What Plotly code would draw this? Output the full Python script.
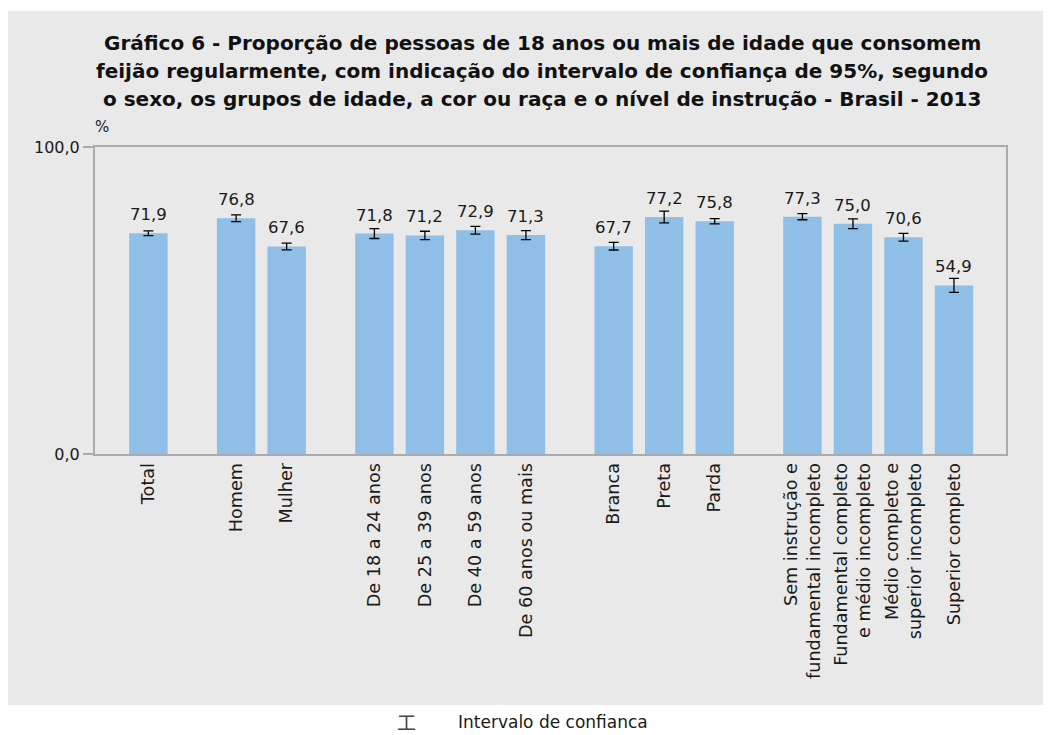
import plotly.graph_objects as go

categories = ["Total", "Homem", "Mulher",
              "De 18 a 24 anos", "De 25 a 39 anos", "De 40 a 59 anos", "De 60 anos ou mais",
              "Branca", "Preta", "Parda",
              "Sem instrução e<br>fundamental incompleto",
              "Fundamental completo<br>e médio incompleto",
              "Médio completo e<br>superior incompleto",
              "Superior completo"]
groups = [0, 1, 1, 2, 2, 2, 2, 3, 3, 3, 4, 4, 4, 4]
values = [71.9, 76.8, 67.6, 71.8, 71.2, 72.9, 71.3, 67.7, 77.2, 75.8, 77.3, 75.0, 70.6, 54.9]
ci_half = [0.8, 1.1, 1.1, 1.6, 1.35, 1.25, 1.45, 1.25, 1.9, 0.87, 1.0, 1.57, 1.25, 2.28]
value_labels = [f"{v:.1f}".replace(".", ",") for v in values]
y_ticks = [0, 100]
y_ticktext = ["0,0", "100,0"]
title_lines = [
    "Gráfico 6 - Proporção de pessoas de 18 anos ou mais de idade que consomem",
    "feijão regularmente, com indicação do intervalo de confiança de 95%, segundo",
    "o sexo, os grupos de idade, a cor ou raça e o nível de instrução - Brasil - 2013",
]

GAP = 0.737
xpos = [i + GAP * g for i, g in enumerate(groups)]

# page body has an 8px margin: figure origin sits at (8, 8) on screen
OFF = 8
W, H = 1051 - OFF, 735 - OFF
L, R, T, B = 95 - OFF, 45, 147 - OFF, 281
pw, ph = W - L - R, H - T - B

def px_x(p):
    return (p - OFF - L) / pw

def px_y(p):
    return (H - B - (p - OFF)) / ph

fig = go.Figure()
fig.add_trace(go.Bar(
    x=xpos, y=values, width=0.76,
    marker=dict(color="#8fbee6", line=dict(width=0)),
    error_y=dict(type="data", array=ci_half, visible=True,
                 color="black", thickness=1.3, width=5),
    showlegend=False, hoverinfo="skip",
))

annotations = []
for x, v, t in zip(xpos, values, value_labels):
    annotations.append(dict(x=x, y=v, xref="x", yref="y", text=t, showarrow=False,
                            yanchor="bottom", yshift=7,
                            font=dict(family="DejaVu Sans", size=16.5, color="#1a1a1a")))

for i, line in enumerate(title_lines):
    annotations.append(dict(
        x=px_x(542), y=px_y(43 + 28 * i), xref="paper", yref="paper", showarrow=False,
        xanchor="center", yanchor="middle", text=f"<b>{line}</b>",
        font=dict(family="DejaVu Sans", size=20.0, color="#111111")))

annotations.append(dict(x=px_x(102), y=px_y(127), xref="paper", yref="paper", showarrow=False,
                        xanchor="center", yanchor="middle",
                        text="%", font=dict(family="DejaVu Sans", size=15, color="#1a1a1a")))

annotations.append(dict(x=px_x(406), y=px_y(721), xref="paper", yref="paper", showarrow=False,
                        xanchor="center", yanchor="middle", text="工",
                        font=dict(family="Noto Sans CJK SC", size=19, color="#444444")))
annotations.append(dict(x=px_x(456), y=px_y(722), xref="paper", yref="paper", showarrow=False,
                        xanchor="left", yanchor="middle", text="Intervalo de confianca",
                        font=dict(family="DejaVu Sans", size=17, color="#1a1a1a")))

fig.update_layout(
    width=W, height=H,
    margin=dict(l=L, r=R, t=T, b=B, autoexpand=False),
    paper_bgcolor="white", plot_bgcolor="white",
    font=dict(family="DejaVu Sans", size=16, color="#1a1a1a"),
    annotations=annotations,
    shapes=[dict(type="rect", xref="paper", yref="paper", layer="below",
                 x0=px_x(6), x1=px_x(1046), y0=px_y(705), y1=px_y(11),
                 fillcolor="#e9e9e9", line=dict(width=0))],
    xaxis=dict(range=[-1.057, xpos[-1] + 1.03], tickvals=xpos, ticktext=categories,
               tickangle=-90, ticks="", showgrid=False, zeroline=False,
               showline=True, mirror=True, linecolor="#ababab", linewidth=2,
               tickfont=dict(family="DejaVu Sans", size=17.6, color="#1a1a1a")),
    yaxis=dict(range=[0, 100], tickvals=y_ticks, ticktext=y_ticktext,
               ticks="outside", ticklen=10, tickcolor="#ababab", tickwidth=2,
               showgrid=False, zeroline=False,
               showline=True, mirror=True, linecolor="#ababab", linewidth=2,
               tickfont=dict(family="DejaVu Sans", size=16, color="#1a1a1a")),
)

fig.write_html("out.html")
